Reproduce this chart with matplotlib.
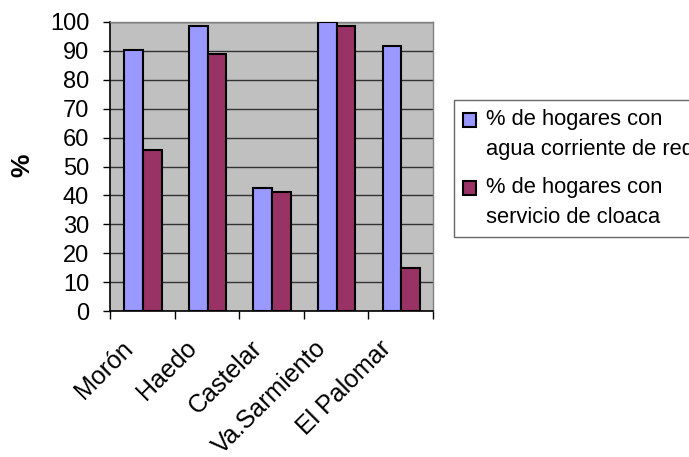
import matplotlib
matplotlib.use("Agg")
import matplotlib.pyplot as plt
import numpy as np
from matplotlib.transforms import ScaledTranslation

categories = ["Morón", "Haedo", "Castelar", "Va.Sarmiento", "El Palomar"]
agua = [90.4, 98.7, 42.4, 100.0, 91.8]
cloaca = [55.7, 89.0, 41.2, 98.7, 14.9]
series_labels = ["% de hogares con\nagua corriente de red", "% de hogares con\nservicio de cloaca"]
yticks = [0, 10, 20, 30, 40, 50, 60, 70, 80, 90, 100]

plt.rcParams['font.family'] = ['Liberation Sans', 'DejaVu Sans']

W, H = 689, 457
fig = plt.figure(figsize=(W / 100, H / 100), dpi=100)
left, right, top, bottom = 110, 433, 22, 311
ax = fig.add_axes([left / W, 1 - bottom / H, (right - left) / W, (bottom - top) / H])
ax.set_facecolor('#C0C0C0')

x = np.arange(len(categories))
bw = 0.29
b1 = ax.bar(x - bw / 2 + 0.01, agua, bw, color='#9999FF', edgecolor='black', linewidth=1.5, zorder=3,
            label=series_labels[0])
b2 = ax.bar(x + bw / 2 + 0.01, cloaca, bw, color='#993366', edgecolor='black', linewidth=1.5, zorder=3,
            label=series_labels[1])

ax.set_xlim(-0.5, len(categories) - 0.5)
ax.set_ylim(0, 100)
ax.set_yticks(yticks)
ax.set_yticklabels([str(v) for v in yticks], fontsize=17)
ax.yaxis.grid(True, color='#333333', linewidth=1, zorder=0)
ax.set_axisbelow(True)

ax.set_xticks(np.arange(len(categories) + 1) - 0.5, minor=False)
ax.set_xticklabels([])
ax.set_xticks(x, minor=True)
ax.set_xticklabels(categories, minor=True, rotation=45, ha='right', rotation_mode='anchor', fontsize=18)
ax.tick_params(axis='x', which='minor', length=0, pad=18)
ax.tick_params(axis='x', which='major', length=6, direction='out', width=1)
ax.tick_params(axis='y', length=5, direction='out', width=1, pad=10)
for lab in ax.get_xticklabels(minor=True):
    lab.set_transform(lab.get_transform() + ScaledTranslation(-22 / 100, 0, fig.dpi_scale_trans))

for s in ['top', 'right']:
    ax.spines[s].set_color('#808080')
    ax.spines[s].set_linewidth(1)
for s in ['left', 'bottom']:
    ax.spines[s].set_color('black')
    ax.spines[s].set_linewidth(1.2)

fig.text(22 / W, 1 - 165 / H, '%', rotation=90, fontsize=19, fontweight='bold', va='center', ha='center')

leg = fig.legend(handles=[b1, b2], loc='upper left', bbox_to_anchor=(454 / W, 1 - 100 / H),
                 fontsize=15.8, frameon=True, fancybox=False, edgecolor='#404040',
                 handlelength=0.6, handleheight=0.6, handletextpad=0.45, labelspacing=0.75,
                 borderpad=0.4, borderaxespad=0)
leg.get_frame().set_linewidth(1)
for t in leg.get_texts():
    t.set_linespacing(1.6)
for p in leg.legend_handles:
    p.set_y(p.get_y() + 10.5)
    p.set_linewidth(1.5)

fig.savefig('out.png', dpi=100)
